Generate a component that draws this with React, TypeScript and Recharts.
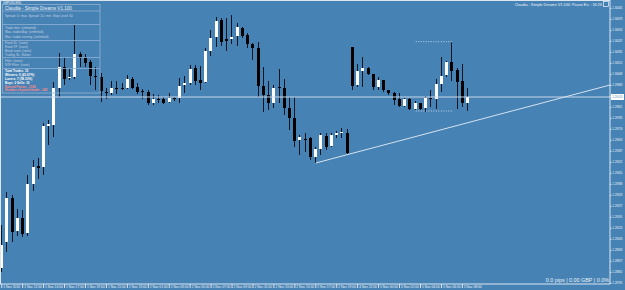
import { ComposedChart, Bar, XAxis, YAxis, ReferenceLine } from 'recharts'

// GBPUSD M30 candles
const opens = [
  1.28887, 1.29043, 1.29307, 1.29109, 1.29187, 1.29097, 1.29391, 1.29499, 1.29493, 1.29739,
  1.29745, 1.29967, 1.30093, 1.30027, 1.30033, 1.30171, 1.30153, 1.30123, 1.30039, 1.30033,
  1.29943, 1.29937, 1.29967, 1.29967, 1.29967, 1.30021, 1.29973, 1.29949, 1.29943, 1.29877,
  1.29901, 1.29901, 1.29883, 1.29907, 1.29907, 1.29985, 1.29997, 1.30087, 1.30015, 1.30003,
  1.30189, 1.30273, 1.30375, 1.30261, 1.30261, 1.30279, 1.30327, 1.30285, 1.30231, 1.30207,
  1.29979, 1.29925, 1.29877, 1.29973, 1.29967, 1.29847, 1.29787, 1.29655, 1.29661, 1.29667,
  1.29553, 1.29601, 1.29679, 1.29619, 1.29685, 1.29697, 1.29697, 1.30213, 1.29985, 1.30069,
  1.30087, 1.30051, 1.29973, 1.30015, 1.29955, 1.29937, 1.29901, 1.29859, 1.29901, 1.29841,
  1.29877, 1.29847, 1.29907, 1.29901, 1.29991, 1.30045, 1.30123, 1.30075, 1.30009, 1.29877,
]
const highs = [
  1.29145, 1.29343, 1.29325, 1.29241, 1.29235, 1.29445, 1.29535, 1.29547, 1.29757, 1.29775,
  1.30003, 1.30177, 1.30147, 1.30087, 1.30345, 1.30183, 1.30171, 1.30135, 1.30093, 1.30057,
  1.29967, 1.30009, 1.30009, 1.29997, 1.30045, 1.30033, 1.29997, 1.29961, 1.29955, 1.29931,
  1.29925, 1.29913, 1.29937, 1.29913, 1.30027, 1.30039, 1.30105, 1.30105, 1.30099, 1.30207,
  1.30315, 1.30393, 1.30387, 1.30387, 1.30405, 1.30357, 1.30333, 1.30297, 1.30237, 1.30243,
  1.30093, 1.30009, 1.29985, 1.30081, 1.30021, 1.29913, 1.29913, 1.29685, 1.29697, 1.29673,
  1.29613, 1.29697, 1.29697, 1.29697, 1.29709, 1.29727, 1.29721, 1.30213, 1.30111, 1.30153,
  1.30093, 1.30051, 1.30033, 1.30015, 1.29955, 1.29943, 1.29937, 1.29907, 1.29907, 1.29889,
  1.29877, 1.29919, 1.29955, 1.30021, 1.30153, 1.30129, 1.30243, 1.30087, 1.30111, 1.29967,
]
const lows = [
  1.28863, 1.28983, 1.29043, 1.29079, 1.29073, 1.29079, 1.29349, 1.29421, 1.29445, 1.29625,
  1.29673, 1.29913, 1.29985, 1.30015, 1.30021, 1.30093, 1.30093, 1.29985, 1.29955, 1.29883,
  1.29901, 1.29925, 1.29931, 1.29955, 1.29961, 1.29961, 1.29931, 1.29901, 1.29865, 1.29865,
  1.29877, 1.29871, 1.29877, 1.29889, 1.29877, 1.29937, 1.29985, 1.29985, 1.29955, 1.29997,
  1.30159, 1.30213, 1.30219, 1.30189, 1.30231, 1.30219, 1.30267, 1.30207, 1.30135, 1.29913,
  1.29823, 1.29835, 1.29847, 1.29877, 1.29805, 1.29715, 1.29613, 1.29565, 1.29583, 1.29535,
  1.29517, 1.29565, 1.29595, 1.29613, 1.29667, 1.29667, 1.29571, 1.29955, 1.29973, 1.29973,
  1.30045, 1.29955, 1.29955, 1.29943, 1.29925, 1.29865, 1.29853, 1.29853, 1.29835, 1.29835,
  1.29835, 1.29823, 1.29853, 1.29841, 1.29943, 1.30033, 1.30009, 1.29841, 1.29853, 1.29829,
]
const closes = [
  1.29025, 1.29307, 1.29103, 1.29187, 1.29091, 1.29391, 1.29493, 1.29487, 1.29739, 1.29751,
  1.29967, 1.30093, 1.30021, 1.30033, 1.30171, 1.30147, 1.30117, 1.30039, 1.30036, 1.29949,
  1.2994, 1.29967, 1.29964, 1.29964, 1.30021, 1.29967, 1.29943, 1.29946, 1.29877, 1.29901,
  1.29898, 1.29877, 1.29907, 1.29904, 1.29979, 1.29997, 1.30081, 1.30009, 1.29997, 1.30189,
  1.30267, 1.30369, 1.30243, 1.30249, 1.30273, 1.30333, 1.30279, 1.30231, 1.30207, 1.29979,
  1.29925, 1.29877, 1.29967, 1.2997, 1.29847, 1.29787, 1.29649, 1.29673, 1.29658, 1.29553,
  1.29601, 1.29685, 1.29613, 1.29685, 1.29697, 1.29703, 1.29577, 1.29979, 1.30069, 1.30087,
  1.30051, 1.29973, 1.30015, 1.29955, 1.29937, 1.29895, 1.29859, 1.29901, 1.29841, 1.29877,
  1.29841, 1.29907, 1.29904, 1.29991, 1.30039, 1.30123, 1.30069, 1.30003, 1.29877, 1.29913,
]

const priceTicks = [
  1.30445, 1.30379, 1.30313, 1.30247, 1.30181, 1.30115, 1.30049, 1.29983, 1.29917, 1.29851,
  1.29785, 1.29719, 1.29653, 1.29587, 1.29521, 1.29455, 1.29389, 1.29323, 1.29257, 1.29191,
  1.29125, 1.29059, 1.28993, 1.28927, 1.28861, 1.28795,
]
const timeLabels = [
  '1 Nov 2016', '1 Nov 12:00', '1 Nov 14:00', '1 Nov 17:00', '1 Nov 19:00', '1 Nov 21:00',
  '1 Nov 23:00', '2 Nov 01:00', '2 Nov 03:00', '2 Nov 05:00', '2 Nov 07:00', '2 Nov 09:00',
  '2 Nov 11:00', '2 Nov 13:00', '2 Nov 15:00', '2 Nov 17:00', '2 Nov 19:00', '4 Nov 22:00',
  '5 Nov 00:00', '5 Nov 02:00', '5 Nov 04:00', '5 Nov 06:00', '5 Nov 08:00',
]
const barsPerLabel = 4

const bidPrice = 1.29913
const trendLine = [{ x: 60, y: 1.29517 }, { x: 116.2, y: 1.29985 }]
const rangeHigh = [{ x: 79.1, y: 1.30245 }, { x: 86, y: 1.30245 }]
const rangeLow = [{ x: 79.1, y: 1.29829 }, { x: 86, y: 1.29829 }]

const BG = '#4682b4'
const AXIS = '#dce6f0'
const TEXT = '#eef3f8'
const MUTED = '#c4d3e2'
const FONT = 'Liberation Sans, Arial, sans-serif'

const data = opens.map((o, i) => ({
  i,
  o,
  h: highs[i],
  l: lows[i],
  c: closes[i],
  range: [lows[i], highs[i]],
}))

const xTicks = timeLabels.map((_, k) => k * barsPerLabel)

function Candle(props: any) {
  const { x, y, width, height, payload } = props
  if (x == null || !payload) return null
  const { o, h, l, c } = payload
  const top = Math.min(y, y + height)
  const span = Math.abs(height)
  const k = h > l ? span / (h - l) : 0
  const py = (v: number) => top + (h - v) * k
  const cx = Math.floor(x + width / 2) + 0.5
  const bTop = py(Math.max(o, c))
  const bBot = py(Math.min(o, c))
  return (
    <g>
      <line x1={cx} x2={cx} y1={top} y2={top + span} stroke="#0a1520" strokeWidth={1} />
      <rect
        x={cx - 1.5}
        y={bTop}
        width={3}
        height={Math.max(1, bBot - bTop)}
        fill={c >= o ? '#ffffff' : '#000000'}
      />
    </g>
  )
}

function PriceTick({ x, y, payload }: any) {
  return (
    <g>
      <line x1={x} x2={x + 1.5} y1={y} y2={y} stroke={AXIS} />
      <text x={x + 2.3} y={y + 1} fontSize={2.8} fill={TEXT} fontFamily={FONT}>
        {Number(payload.value).toFixed(5)}
      </text>
    </g>
  )
}

function TimeTick({ x, y, payload }: any) {
  const label = timeLabels[Math.round(payload.value / barsPerLabel)] ?? ''
  return (
    <g>
      <line x1={x} x2={x} y1={y} y2={y + 4} stroke={AXIS} />
      <text x={x + 1.5} y={y + 3.5} fontSize={3.3} fill={TEXT} fontFamily={FONT}>
        {label}
      </text>
    </g>
  )
}

function BidLabel(props: any) {
  const vb = props.viewBox || {}
  const lx = (vb.x ?? 0) + (vb.width ?? 0) + 1
  const ly = vb.y ?? 0
  return (
    <g>
      <rect x={lx} y={ly - 3} width={13} height={6} fill="#ffffff" />
      <text x={lx + 1.2} y={ly + 1} fontSize={2.8} fill={BG} fontFamily={FONT}>
        {bidPrice.toFixed(5)}
      </text>
    </g>
  )
}

const panelRows = [
  { y: 16.5, text: 'Spread: 0 / max. Spread: 10 / min. Stop Level: 50', color: MUTED, bold: false },
  { y: 29, text: 'Trade time: (unlimited)', color: MUTED, bold: false },
  { y: 33, text: 'Max. trades/day: (unlimited)', color: MUTED, bold: false },
  { y: 37.5, text: 'Max. trades running: (unlimited)', color: MUTED, bold: false },
  { y: 44, text: 'Fixed SL: (none)', color: MUTED, bold: false },
  { y: 48, text: 'Fixed TP: (none)', color: MUTED, bold: false },
  { y: 52, text: 'Break even: (none)', color: MUTED, bold: false },
  { y: 55.5, text: 'Trailing SL: Values', color: MUTED, bold: false },
  { y: 62, text: 'Filter: (none)', color: MUTED, bold: false },
  { y: 66, text: 'NTF Filter: (none)', color: MUTED, bold: false },
  { y: 72, text: 'Total Trades: 12', color: '#ffffff', bold: true },
  { y: 76, text: 'Winners: 5 (41.67%)', color: '#ffffff', bold: true },
  { y: 80, text: 'Losers: 7 (58.33%)', color: '#ffffff', bold: true },
  { y: 84, text: 'Buys: 2 Sells: 10', color: '#ffffff', bold: true },
  { y: 87.5, text: 'Earned Points: -1745', color: '#ff8a8a', bold: true },
  { y: 91.3, text: 'Number of points/trade: -145', color: '#ff8a8a', bold: true },
]
const panelRules = [11, 24.5, 40.5, 57.5, 68.5]

export default function App() {
  return (
    <div
      style={{
        position: 'fixed',
        left: 0,
        top: 0,
        width: 625,
        height: 290,
        background: BG,
        overflow: 'hidden',
      }}
    >
      <ComposedChart width={625} height={290} data={data} margin={{ top: 0, right: 0, bottom: 0, left: 0 }}>
        <XAxis
          dataKey="i"
          type="number"
          domain={[-0.33, 116.2]}
          allowDataOverflow
          ticks={xTicks}
          interval={0}
          height={6}
          axisLine={{ stroke: AXIS }}
          tickLine={false}
          tickSize={0}
          tickMargin={0}
          tick={<TimeTick />}
        />
        <YAxis
          orientation="right"
          type="number"
          width={15}
          domain={[1.28791, 1.30495]}
          allowDataOverflow
          ticks={priceTicks}
          interval={0}
          axisLine={{ stroke: AXIS }}
          tickLine={false}
          tickSize={0}
          tickMargin={0}
          tick={<PriceTick />}
        />
        <Bar dataKey="range" barSize={5} shape={<Candle />} isAnimationActive={false} />
        <ReferenceLine y={bidPrice} stroke="#c8d6e8" strokeWidth={1} label={(p: any) => <BidLabel {...p} />} />
        <ReferenceLine segment={trendLine} stroke="#d6e2ef" strokeWidth={1} ifOverflow="visible" />
        <ReferenceLine segment={rangeHigh} stroke="#c8d6e8" strokeDasharray="1 1.5" ifOverflow="visible" />
        <ReferenceLine segment={rangeLow} stroke="#c8d6e8" strokeDasharray="1 1.5" ifOverflow="visible" />
      </ComposedChart>

      <svg
        width={625}
        height={290}
        style={{ position: 'absolute', left: 0, top: 0, pointerEvents: 'none' }}
      >
        <line x1={0.5} x2={0.5} y1={0} y2={284} stroke={AXIS} />
        <line x1={0} x2={610} y1={0.5} y2={0.5} stroke={AXIS} />

        <text x={3} y={3.5} fontSize={2.8} fill={TEXT} fontFamily={FONT}>GBPUSD,M30</text>
        <rect x={2.5} y={4.5} width={97.5} height={88.5} fill="none" stroke="#8fb1d3" strokeWidth={0.8} />
        {panelRules.map((ry) => (
          <line key={ry} x1={2.5} x2={100} y1={ry} y2={ry} stroke="#8fb1d3" strokeWidth={0.8} />
        ))}
        <text x={5} y={9.5} fontSize={4.6} fill="#e6eef6" fontFamily={FONT}>
          Claudia - Simple Dreams V1.100
        </text>
        {panelRows.map((r) => (
          <text
            key={r.text}
            x={5}
            y={r.y}
            fontSize={3.1}
            fill={r.color}
            fontWeight={r.bold ? 700 : 400}
            fontFamily={FONT}
          >
            {r.text}
          </text>
        ))}

        <text x={602} y={5.5} fontSize={3.8} fill={TEXT} fontFamily={FONT} textAnchor="end">
          Claudia - Simple Dreams V1.100: Pause Ex. : 16:26
        </text>
        <rect x={603.5} y={1.5} width={5} height={5} fill="none" stroke={TEXT} strokeWidth={0.7} />

        <text x={609} y={281.5} fontSize={5.4} fill={TEXT} fontFamily={FONT} textAnchor="end">
          0.0 pips | 0.00 GBP | 0.0%
        </text>
      </svg>
    </div>
  )
}
